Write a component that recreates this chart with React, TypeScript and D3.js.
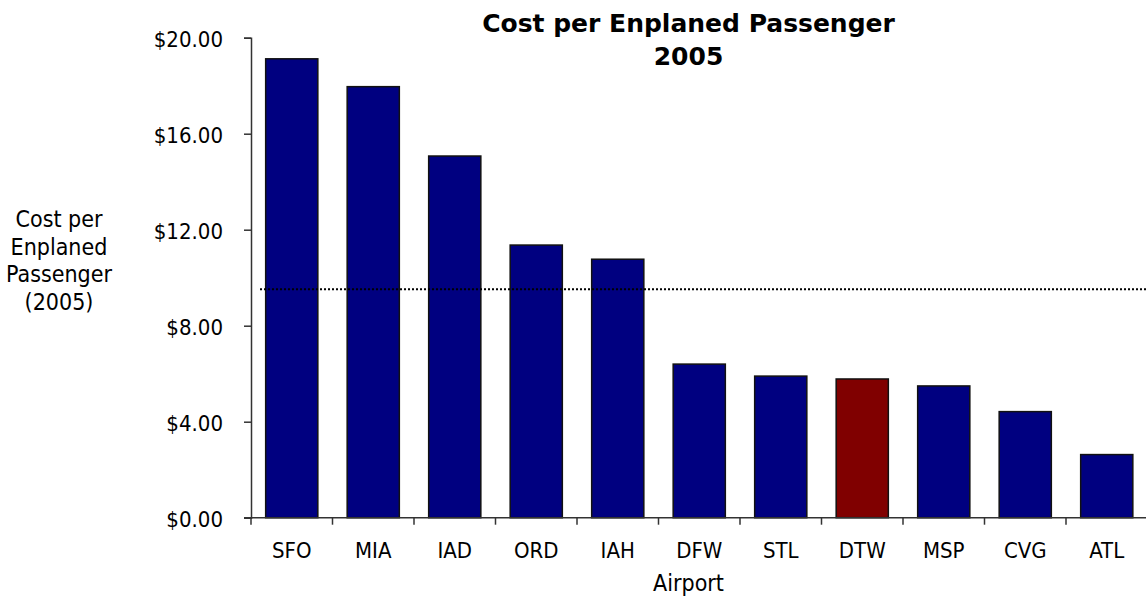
import React, { useEffect, useRef } from "react";
import * as d3 from "d3";

const airports: string[] = ["SFO", "MIA", "IAD", "ORD", "IAH", "DFW", "STL", "DTW", "MSP", "CVG", "ATL"];
const costs: number[] = [19.12, 17.96, 15.07, 11.36, 10.77, 6.4, 5.9, 5.78, 5.49, 4.42, 2.63];
const highlight = "DTW";
const average = 9.52;
const yTicks: number[] = [0, 4, 8, 12, 16, 20];
const titleLines: string[] = ["Cost per Enplaned Passenger", "2005"];
const yLabelLines: string[] = ["Cost per", "Enplaned", "Passenger", "(2005)"];
const xLabel = "Airport";

const width = 1146;
const height = 600;
const plotLeft = 251;
const plotTop = 37.7;
const plotBottom = 517.7;
const step = 81.5;

const font = "'DejaVu Sans Condensed', 'DejaVu Sans', sans-serif";

const App = () => {
  const axisLeftEl = useRef<SVGGElement>(null);

  const x = d3
    .scaleBand()
    .domain(airports)
    .range([plotLeft, plotLeft + step * airports.length])
    .paddingInner(0.36)
    .paddingOuter(0.18);

  const y = d3.scaleLinear().domain([0, 20]).range([plotBottom, plotTop]);

  const gap = x.step() - x.bandwidth();
  const boundaries = airports.map((a) => Number(x(a)) - gap / 2);
  boundaries.push(plotLeft + x.step() * airports.length);

  useEffect(() => {
    const g = d3.select(axisLeftEl.current);
    g.call(
      d3
        .axisLeft(y)
        .tickValues(yTicks)
        .tickSize(7)
        .tickPadding(21)
        .tickFormat((d) => d3.format("$.2f")(d as number)) as any
    );
    g.select(".domain").attr("stroke", "#333").attr("stroke-width", 1.5);
    g.selectAll(".tick line").attr("stroke", "#333").attr("stroke-width", 1.5);
    g.selectAll(".tick text")
      .attr("font-family", font)
      .attr("font-size", 22)
      .attr("fill", "#000")
      .attr("dy", "0.42em");
  }, [y]);

  return (
    <svg
      width={width}
      height={height}
      style={{ position: "absolute", left: 0, top: 0, background: "#fff" }}
    >
      <g fontFamily="'DejaVu Sans', sans-serif" fontWeight="bold" fontSize={25} textAnchor="middle">
        {titleLines.map((t, i) => (
          <text key={i} x={688.5} y={32 + i * 33}>
            {t}
          </text>
        ))}
      </g>

      <g fontFamily={font} fontSize={23} textAnchor="middle">
        {yLabelLines.map((t, i) => (
          <text key={i} x={59} y={227 + i * 27.7}>
            {t}
          </text>
        ))}
      </g>

      {airports.map((a, i) => (
        <rect
          key={a}
          x={Number(x(a))}
          y={y(costs[i])}
          width={x.bandwidth()}
          height={y(0) - y(costs[i])}
          fill={a === highlight ? "#800000" : "#000080"}
          stroke="#111"
          strokeWidth={1.5}
        />
      ))}

      <line
        x1={260}
        x2={width}
        y1={y(average)}
        y2={y(average)}
        stroke="#000"
        strokeWidth={2}
        strokeDasharray="2,2"
      />

      <g ref={axisLeftEl} transform={`translate(${plotLeft},0)`} />

      <g>
        <line x1={plotLeft - 7} x2={width} y1={y(0)} y2={y(0)} stroke="#333" strokeWidth={1.5} />
        {boundaries.map((b, i) => (
          <line key={i} x1={b} x2={b} y1={y(0)} y2={y(0) + 7} stroke="#333" strokeWidth={1.5} />
        ))}
        <g fontFamily={font} fontSize={22} textAnchor="middle">
          {airports.map((a) => (
            <text key={a} x={Number(x(a)) + x.bandwidth() / 2} y={y(0) + 40.5}>
              {a}
            </text>
          ))}
        </g>
        <text x={688.5} y={591} fontFamily={font} fontSize={23} textAnchor="middle">
          {xLabel}
        </text>
      </g>
    </svg>
  );
};

export default App;
